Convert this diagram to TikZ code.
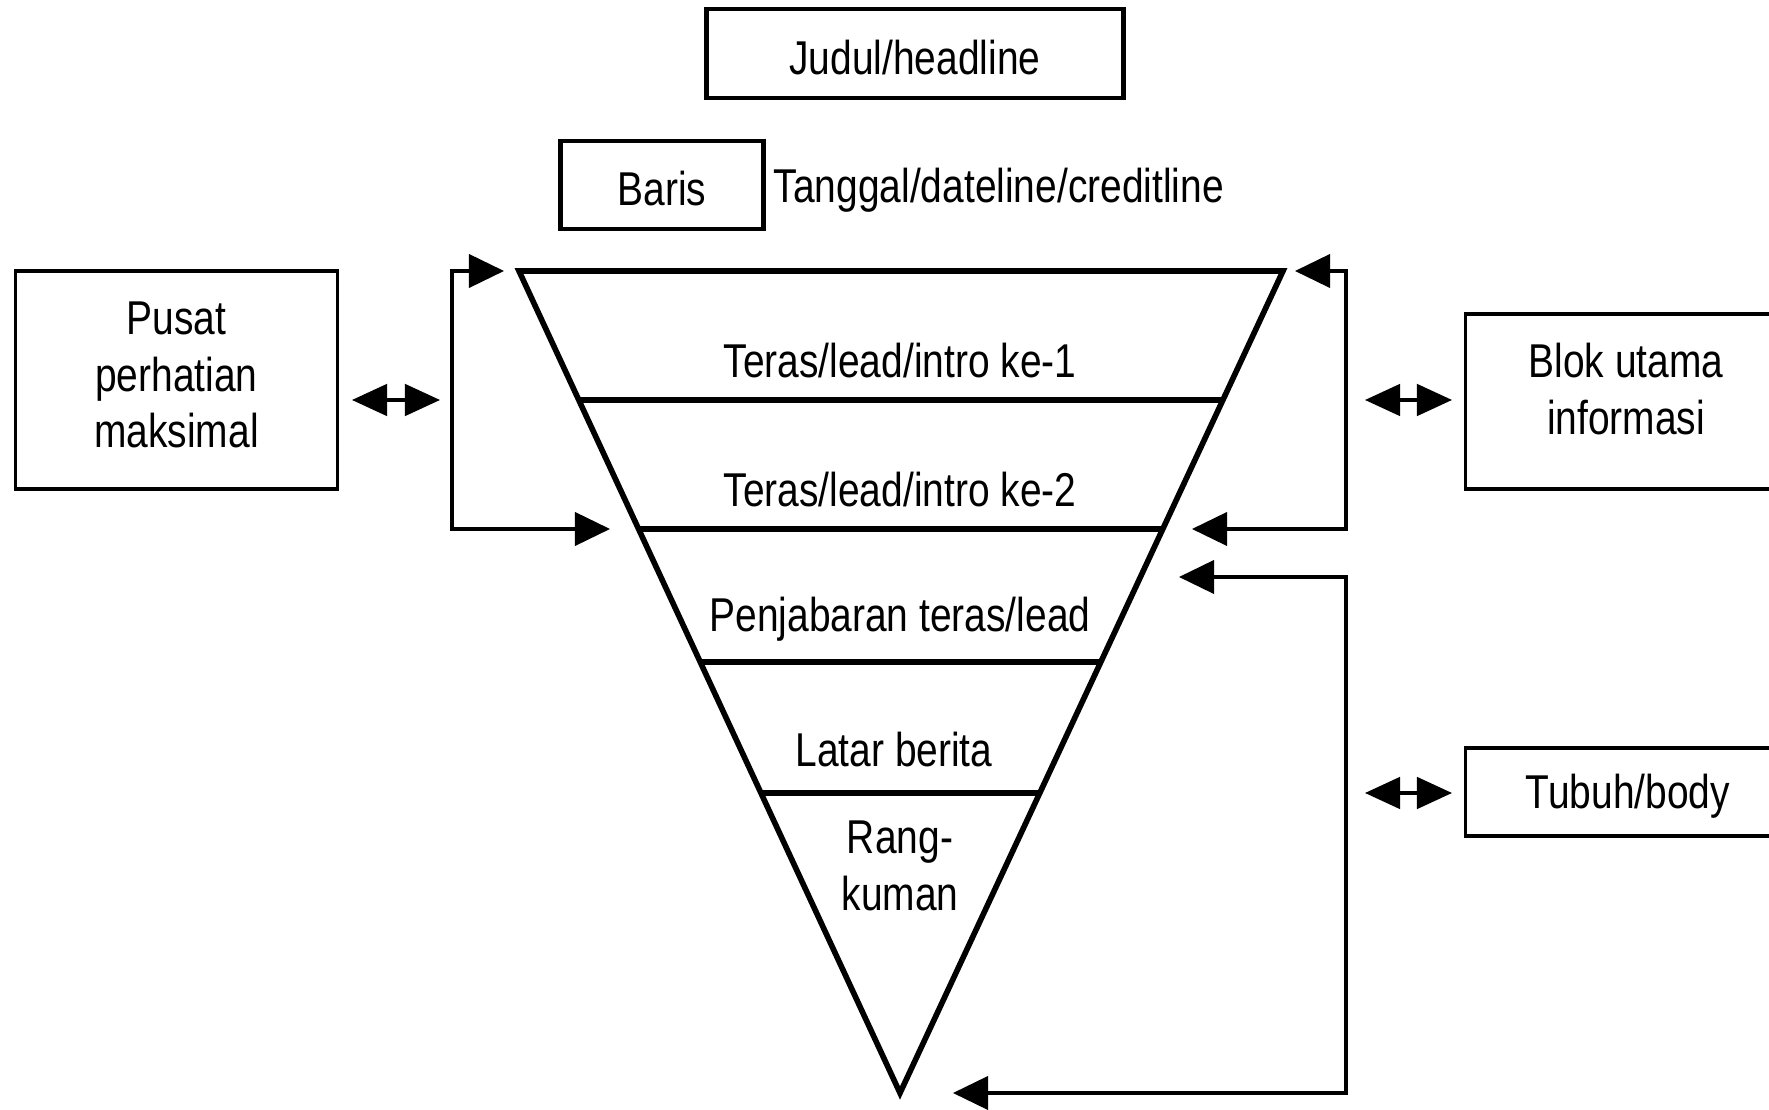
\documentclass[tikz,border=0pt]{standalone}
\usepackage{fontspec}
\setmainfont{Liberation Sans}[FakeStretch=0.82]
\usetikzlibrary{arrows.meta,calc}
\begin{document}
\begin{tikzpicture}[x=0.01cm,y=-0.01cm,
  txt/.style={font=\fontsize{13.5}{16.1}\selectfont, align=center, inner sep=0pt},
  thickbox/.style={draw, line width=1.4pt, inner sep=0pt},
  thinbox/.style={draw, line width=0.9pt, inner sep=0pt},
  funnel/.style={line width=1.6pt, line join=miter},
  link/.style={line width=0.9pt, {Triangle[length=10pt,width=9.5pt]}-{Triangle[length=10pt,width=9.5pt]}},
  dbl/.style={line width=0.9pt, {Triangle[length=10pt,width=9pt]}-{Triangle[length=10pt,width=9pt]}}]
\clip (0,0) rectangle (1769,1110);
\fill[white] (0,0) rectangle (1769,1110);

% top boxes
\node[thickbox, minimum width=4.16cm, minimum height=0.89cm] (judul) at (915,53.5) {};
\node[txt] (judult) at (915,58) {Judul/headline};
\node[thickbox, minimum width=2.02cm, minimum height=0.88cm] (baris) at (662,185) {};
\node[txt] (barist) at (662,189) {Baris};
\node[txt, anchor=west] (tanggal) at (773,190) {Tanggal/dateline/creditline};

% funnel
\coordinate (TL) at (519,271);
\coordinate (TR) at (1283,271);
\coordinate (AP) at (900,1093);
\draw[funnel] (TL) -- (TR) -- (AP) -- cycle;
\foreach \t/\n in {0.157/a,0.314/b,0.476/c,0.635/d}{
  \coordinate (L\n) at ($(TL)!\t!(AP)$);
  \coordinate (R\n) at ($(TR)!\t!(AP)$);
  \draw[funnel] (L\n) -- (R\n);
}
\node[txt] (t1) at (900,361) {Teras/lead/intro ke-1};
\node[txt] (t2) at (900,490) {Teras/lead/intro ke-2};
\node[txt] (t3) at (900,619) {Penjabaran teras/lead};
\node[txt] (t4) at (894,750) {Latar berita};
\node[txt] (t5) at (900,866) {Rang-\\kuman};

% side boxes
\node[thinbox, minimum width=3.21cm, minimum height=2.18cm] (pusat) at (176.5,380) {};
\node[txt] (pusatt) at (176.5,375) {Pusat\\perhatian\\maksimal};
\node[thinbox, minimum width=3.4cm, minimum height=1.75cm] (blok) at (1636,401.5) {};
\node[txt] (blokt) at (1626,389) {Blok utama\\informasi};
\node[thinbox, minimum width=3.4cm, minimum height=0.88cm] (tubuh) at (1636,792) {};
\node[txt] (tubuht) at (1628,796) {Tubuh/body};

% brackets
\coordinate (lt) at (504,271);
\coordinate (lc1) at (452,271);
\coordinate (lc2) at (452,529);
\coordinate (lb) at (610,529);
\draw[link] (lt) -- (lc1) -- (lc2) -- (lb);

\coordinate (rt) at (1295,271);
\coordinate (rc1) at (1346,271);
\coordinate (rc2) at (1346,529);
\coordinate (rb) at (1192,529);
\draw[link] (rt) -- (rc1) -- (rc2) -- (rb);

\coordinate (st) at (1179,577);
\coordinate (sc1) at (1346,577);
\coordinate (sc2) at (1346,1093);
\coordinate (sb) at (953,1093);
\draw[link] (st) -- (sc1) -- (sc2) -- (sb);

% double arrows
\coordinate (d1a) at (352,400); \coordinate (d1b) at (440,400);
\draw[dbl] (d1a) -- (d1b);
\coordinate (d2a) at (1365,400); \coordinate (d2b) at (1452,400);
\draw[dbl] (d2a) -- (d2b);
\coordinate (d3a) at (1365,793); \coordinate (d3b) at (1452,793);
\draw[dbl] (d3a) -- (d3b);
\end{tikzpicture}
\end{document}
